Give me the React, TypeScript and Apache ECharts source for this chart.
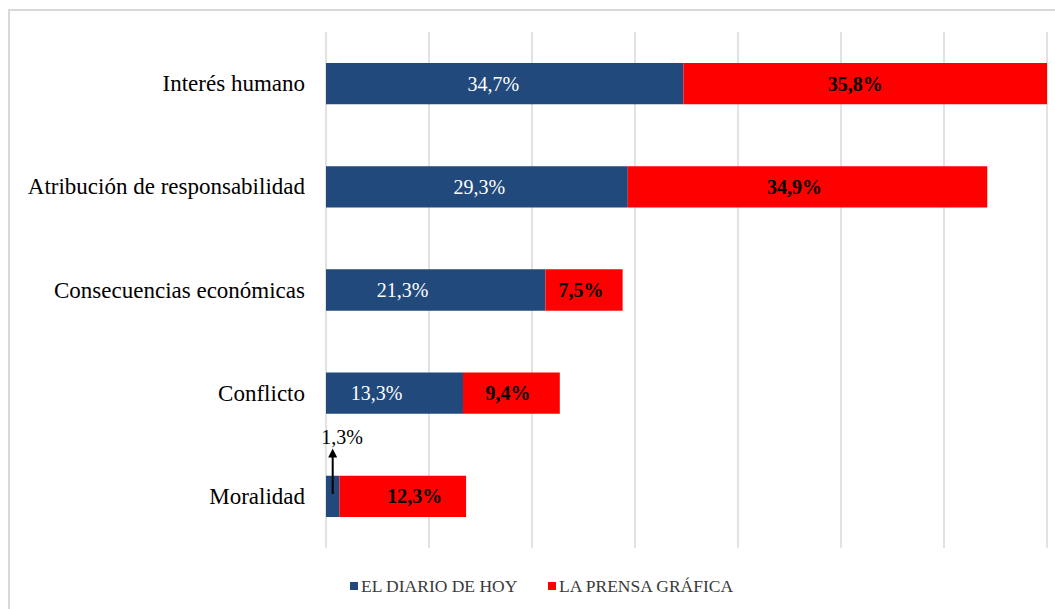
import React, { useEffect, useRef } from "react";
import * as echarts from "echarts";

const categories = [
  "Interés humano",
  "Atribución de responsabilidad",
  "Consecuencias económicas",
  "Conflicto",
  "Moralidad",
];
const seriesNames = ["EL DIARIO DE HOY", "LA PRENSA GRÁFICA"];
const diarioValues = [34.7, 29.3, 21.3, 13.3, 1.3];
const prensaValues = [35.8, 34.9, 7.5, 9.4, 12.3];
const axisMax = 70;
const axisStep = 10;

// label horizontal nudges (style only)
const diarioLabelDx = [-11.5, 2.5, -33, -18, 0];
const prensaLabelDx = [-10, -13, -3, -3.5, 12];

const FONT = "'Liberation Serif', 'Times New Roman', serif";
const BLUE = "#21497C";
const RED = "#FF0000";

const fmt = (v: number) => v.toFixed(1).replace(".", ",") + "%";

export default function App() {
  const ref = useRef<HTMLDivElement>(null);
  useEffect(() => {
    if (!ref.current) return;
    const chart = echarts.init(ref.current, undefined, { renderer: "svg" });
    const option: any = {
      animation: false,
      textStyle: { fontFamily: FONT },
      grid: { left: 326, right: 8, top: 32, bottom: 61, containLabel: false },
      legend: {
        data: seriesNames,
        left: 350,
        top: 577,
        padding: 0,
        itemWidth: 8,
        itemHeight: 8,
        itemGap: 30,
        icon: "rect",
        textStyle: { fontFamily: FONT, fontSize: 17.5, color: "#3a3a3a", padding: [0, 0, 0, -2] },
      },
      xAxis: {
        type: "value",
        min: 0,
        max: axisMax,
        interval: axisStep,
        axisLabel: { show: false },
        axisLine: { show: false },
        axisTick: { show: false },
        splitLine: { show: true, lineStyle: { color: "#d9d9d9", width: 1.5 } },
      },
      yAxis: {
        type: "category",
        inverse: true,
        data: categories,
        axisLine: { show: false },
        axisTick: { show: false },
        axisLabel: { fontFamily: FONT, fontSize: 23, color: "#000", margin: 21 },
      },
      series: [
        {
          name: seriesNames[0],
          type: "bar",
          stack: "total",
          barCategoryGap: "60%",
          clip: true,
          itemStyle: { color: BLUE },
          label: {
            show: true,
            position: "inside",
            color: "#fff",
            fontFamily: FONT,
            fontSize: 20,
            formatter: (p: any) => fmt(p.value),
          },
          data: diarioValues.map((v, i) => ({
            value: v,
            label: { show: v >= 5, offset: [diarioLabelDx[i], 0] },
          })),
        },
        {
          name: seriesNames[1],
          type: "bar",
          stack: "total",
          barCategoryGap: "60%",
          clip: true,
          itemStyle: { color: RED },
          label: {
            show: true,
            position: "inside",
            color: "#000",
            fontFamily: FONT,
            fontSize: 20,
            fontWeight: "bold",
            formatter: (p: any) => fmt(p.value),
          },
          data: prensaValues.map((v, i) => ({
            value: v,
            label: { offset: [prensaLabelDx[i], 0] },
          })),
        },
      ],
    };
    chart.setOption(option);

    // annotation for the small value
    const idx = diarioValues.length - 1;
    const x0 = chart.convertToPixel({ xAxisIndex: 0 }, 0) as number;
    const xv = chart.convertToPixel({ xAxisIndex: 0 }, diarioValues[idx] / 2) as number;
    const yc = chart.convertToPixel({ yAxisIndex: 0 }, categories[idx]) as number;
    const tipY = yc - 48;
    const baseY = yc - 2.5;
    chart.setOption({
      graphic: [
        {
          type: "rect",
          silent: true,
          shape: { x: 9, y: 10, width: 1200, height: 800 },
          style: { fill: "none", stroke: "#d9d9d9", lineWidth: 2 },
          z: 100,
        },
        {
          type: "line",
          shape: { x1: xv, y1: baseY, x2: xv, y2: tipY + 7 },
          style: { stroke: "#000", lineWidth: 2 },
          z: 100,
        },
        {
          type: "polygon",
          shape: { points: [[xv, tipY], [xv - 4.5, tipY + 9], [xv + 4.5, tipY + 9]] },
          style: { fill: "#000" },
          z: 100,
        },
        {
          type: "text",
          x: x0 + 16,
          y: yc - 59,
          style: {
            text: fmt(diarioValues[idx]),
            fontFamily: FONT,
            fontSize: 20,
            fill: "#000",
            align: "center",
            verticalAlign: "middle",
          },
          z: 100,
        },
      ],
    });
    return () => chart.dispose();
  }, []);
  return (
    <div
      ref={ref}
      style={{ position: "absolute", left: 0, top: 0, width: 1055, height: 609, background: "#fff" }}
    />
  );
}
